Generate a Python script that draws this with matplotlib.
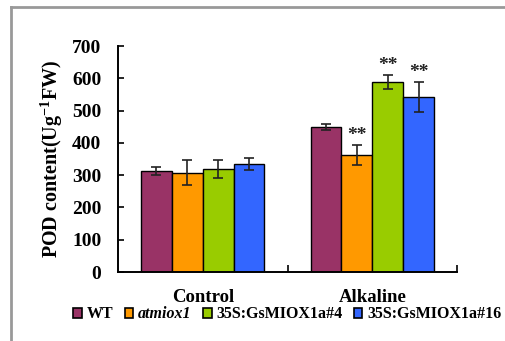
import numpy as np
import matplotlib
matplotlib.use('Agg')
import matplotlib.pyplot as plt
from matplotlib.lines import Line2D

plt.rcParams['font.family'] = 'Liberation Serif'
plt.rcParams['font.weight'] = 'bold'
plt.rcParams['axes.labelweight'] = 'bold'
plt.rcParams['mathtext.fontset'] = 'custom'
plt.rcParams['mathtext.rm'] = 'Liberation Serif:bold'
plt.rcParams['mathtext.it'] = 'Liberation Serif:bold'
plt.rcParams['mathtext.bf'] = 'Liberation Serif:bold'

groups = ['Control', 'Alkaline']
lines = ['WT', 'atmiox1', '35S:GsMIOX1a#4', '35S:GsMIOX1a#16']
colors = ['#993366', '#FF9900', '#99CC00', '#3366FF']

# POD content (U g-1 FW), rows = lines, cols = groups
pod = [[313, 450],
       [308, 362],
       [320, 589],
       [334, 543]]
err = [[12, 9],
       [38, 30],
       [28, 21],
       [19, 46]]
stars = [['', ''],
         ['', '**'],
         ['', '**'],
         ['', '**']]

fig = plt.figure(figsize=(5.05, 3.41), dpi=100)
ax = fig.add_axes([0.2337, 0.2023, 0.6713, 0.6628])

x = np.arange(len(groups))
w = 0.182
handles = []
for i in range(len(lines)):
    pos = x + (i - 1.5) * w
    b = ax.bar(pos, pod[i], w, color=colors[i], edgecolor='black', linewidth=1.0,
               yerr=err[i], capsize=3.5, error_kw=dict(elinewidth=1.2, capthick=1.2, ecolor='#222222'))
    handles.append(b)
    for j in range(len(groups)):
        if stars[i][j]:
            ax.text(pos[j], pod[i][j] + err[i][j] + 3, stars[i][j], ha='center', va='bottom',
                    fontsize=14, color='#222222')

ax.set_xlim(-0.5, 1.5)
ax.set_ylim(0, 700)
ax.set_yticks(range(0, 701, 100))
ax.set_xticks([0.5, 1.5], minor=False)
ax.set_xticklabels(['', ''])
ax.tick_params(axis='y', direction='in', length=4, width=1.2, labelsize=14, pad=12)
ax.tick_params(axis='x', direction='in', length=5, width=1.2)
for j, g in enumerate(groups):
    ax.text(x[j], -52, g, ha='center', va='top', fontsize=13.5, transform=ax.transData)
for s in ['top', 'right']:
    ax.spines[s].set_visible(False)
for s in ['left', 'bottom']:
    ax.spines[s].set_linewidth(1.4)

ax.set_ylabel(r'POD content(Ug$^{-1}$FW)', fontsize=14.5, labelpad=5)

leg = fig.legend(handles, lines, loc='center', bbox_to_anchor=(0.569, 0.078), ncol=4,
                 frameon=False, fontsize=11.5, handlelength=0.55, handleheight=0.55,
                 handletextpad=0.3, columnspacing=0.7, borderpad=0)
for h in leg.legend_handles:
    h.set_linewidth(1.2)
leg.get_texts()[1].set_style('italic')

# grey frame around the picture
fig.add_artist(Line2D([11 / 505, 11 / 505], [0, 1 - 7 / 341], color='#999999', lw=2.0))
fig.add_artist(Line2D([11 / 505, 1], [1 - 7 / 341, 1 - 7 / 341], color='#999999', lw=2.0))

fig.savefig('out.png', dpi=100)
